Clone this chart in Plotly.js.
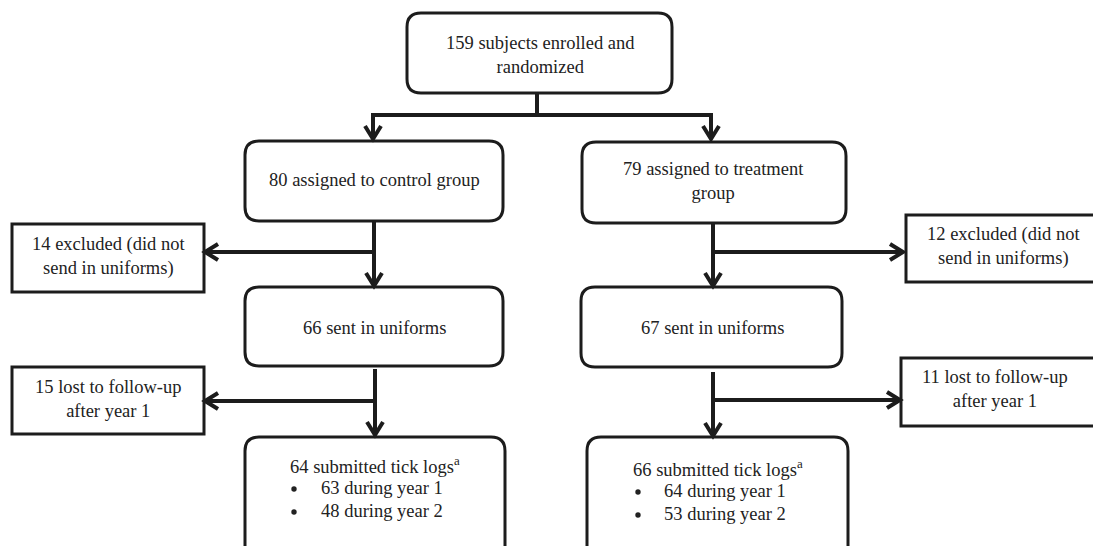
<!DOCTYPE html>
<html><head><meta charset="utf-8">
<script src="https://cdn.plot.ly/plotly-3.0.1.min.js"></script>
<style>html,body{margin:0;padding:0;background:#fff;}#chart{width:1093px;height:546px;}</style>
</head><body><div id="chart"></div>
<script>
const enrolled = 159;
const groups = ["control group", "treatment<br>group"];
const assigned = [80, 79];
const excluded = [14, 12];
const sentIn = [66, 67];
const lostFollowUp = [15, 11];
const submittedLogs = [64, 66];
const logsYear1 = [63, 64];
const logsYear2 = [48, 53];

// ---- layout geometry (pixels, y downward) ----
const W = 1093, H = 546;
const ink = "#1c1c1c";
const SERIF = "Liberation Serif";
const FS = 18.5;
const BW = 3, LW = 4, R = 14;

const shapes = [];
const annotations = [];

function rrect(x0, y0, x1, y1, r) {
  const p = `M${x0+r},${y0} L${x1-r},${y0} Q${x1},${y0} ${x1},${y0+r} L${x1},${y1-r} Q${x1},${y1} ${x1-r},${y1} L${x0+r},${y1} Q${x0},${y1} ${x0},${y1-r} L${x0},${y0+r} Q${x0},${y0} ${x0+r},${y0} Z`;
  shapes.push({type: "path", xref: "x", yref: "y", path: p, line: {color: ink, width: BW}, fillcolor: "rgba(0,0,0,0)"});
}
function rect(x0, y0, x1, y1) {
  shapes.push({type: "rect", xref: "x", yref: "y", x0, y0, x1, y1, line: {color: ink, width: BW}, fillcolor: "rgba(0,0,0,0)"});
}
function seg(x0, y0, x1, y1) {
  shapes.push({type: "line", xref: "x", yref: "y", x0, y0, x1, y1, line: {color: ink, width: LW}});
}
function chevron(x, y, dir) {
  const d = 13, h = 8;
  let p;
  if (dir === "down") p = `M${x-h},${y-d} L${x},${y} L${x+h},${y-d}`;
  else if (dir === "left") p = `M${x+d},${y-h} L${x},${y} L${x+d},${y+h}`;
  else p = `M${x-d},${y-h} L${x},${y} L${x-d},${y+h}`;
  shapes.push({type: "path", xref: "x", yref: "y", path: p, line: {color: ink, width: LW}});
}
function arrow(x0, y0, x1, y1, dir) { seg(x0, y0, x1, y1); chevron(x1, y1, dir); }
function label(x, y, t, anchor) {
  annotations.push({xref: "x", yref: "y", x, y, text: t, showarrow: false,
    font: {family: SERIF, size: FS, color: "#222"},
    xanchor: anchor || "center", yanchor: "middle", align: anchor === "left" ? "left" : "center"});
}
function dot(x, y) {
  shapes.push({type: "circle", xref: "x", yref: "y", x0: x - 2.7, x1: x + 2.7, y0: y - 2.7, y1: y + 2.7,
    line: {width: 0}, fillcolor: "#222"});
}

// top box
rrect(407, 13, 672, 93, R);
label(540, 55, `${enrolled} subjects enrolled and<br>randomized`);
seg(537, 93, 537, 115);
seg(371, 115, 713, 115);
arrow(373, 115, 373, 139, "down");
arrow(711, 115, 711, 139, "down");

// assigned boxes
rrect(245, 141, 503, 221, R);
rrect(582, 142, 846, 223, R);
label(374, 180, `${assigned[0]} assigned to ${groups[0]}`);
label(713, 181, `${assigned[1]} assigned to ${groups[1]}`);

// exclusion
arrow(374, 221, 374, 286, "down");
arrow(374, 252, 205, 252, "left");
rect(12, 224, 204, 292);
label(108, 256, `${excluded[0]} excluded (did not<br>send in uniforms)`);

arrow(713, 224, 713, 286, "down");
arrow(713, 252, 903, 252, "right");
rect(906, 215, 1095, 282);
label(1003, 246, `${excluded[1]} excluded (did not<br>send in uniforms)`);

// sent-in boxes
rrect(245, 287, 503, 366, R);
rrect(581, 287, 842, 367, R);
label(374, 328, `${sentIn[0]} sent in uniforms`);
label(712, 328, `${sentIn[1]} sent in uniforms`);

// lost to follow-up
arrow(375, 369, 375, 435, "down");
arrow(375, 401, 205, 401, "left");
rect(12, 367, 204, 434);
label(108, 399, `${lostFollowUp[0]} lost to follow-up<br>after year 1`);

arrow(713, 372, 713, 436, "down");
arrow(713, 400, 900, 400, "right");
rect(901, 358, 1095, 426);
label(995, 389, `${lostFollowUp[1]} lost to follow-up<br>after year 1`);

// submitted boxes
rrect(245, 437, 505, 560, R);
rrect(587, 437, 848, 560, R);
const bottom = [{cx: 375, bx: 294, tx: 319, ys: [465, 488, 511]}, {cx: 718, bx: 638, tx: 662, ys: [468, 491, 514]}];
for (let i = 0; i < 2; i++) {
  const b = bottom[i];
  label(b.cx, b.ys[0], `${submittedLogs[i]} submitted tick logs<sup>a</sup>`);
  dot(b.bx, b.ys[1] + 1);
  dot(b.bx, b.ys[2] + 1);
  label(b.tx, b.ys[1], `${logsYear1[i]} during year 1`, "left");
  label(b.tx, b.ys[2], `${logsYear2[i]} during year 2`, "left");
}

const layout = {
  width: W, height: H,
  margin: {l: 0, r: 0, t: 0, b: 0},
  font: {family: SERIF, size: FS, color: "#222"},
  paper_bgcolor: "#fff", plot_bgcolor: "#fff",
  xaxis: {range: [0, W], visible: false, fixedrange: true},
  yaxis: {range: [H, 0], visible: false, fixedrange: true},
  shapes, annotations, showlegend: false
};
Plotly.newPlot("chart", [], layout, {staticPlot: true, displayModeBar: false});
</script></body></html>
